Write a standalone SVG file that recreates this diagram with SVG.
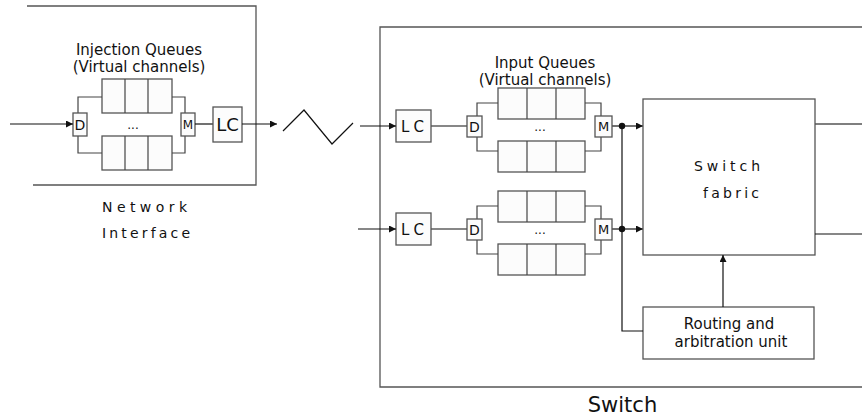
<svg xmlns="http://www.w3.org/2000/svg" width="862" height="417" viewBox="0 0 862 417">
<defs>
<style>
text{font-family:"DejaVu Sans","Liberation Sans",sans-serif;fill:#111;}
.box{fill:#fcfcfc;stroke:#555;stroke-width:1.3;}
.frame{fill:none;stroke:#555;stroke-width:1.3;}
.ln{fill:none;stroke:#111;stroke-width:1.2;}
.gl{fill:none;stroke:#444;stroke-width:1.2;}
.arr{fill:none;stroke:#111;stroke-width:1.2;marker-end:url(#ah);}
.mid{text-anchor:middle;}
</style>
<marker id="ah" viewBox="0 0 10 10" refX="10" refY="5" markerWidth="7" markerHeight="7" markerUnits="userSpaceOnUse" orient="auto">
<path d="M0,0 L10,5 L0,10 z" fill="#111"/>
</marker>
<g id="qrow">
<rect class="box" x="498" y="88" width="87" height="31"/>
<line class="gl" x1="527" y1="88" x2="527" y2="119"/>
<line class="gl" x1="556" y1="88" x2="556" y2="119"/>
<rect class="box" x="498" y="141" width="87" height="31"/>
<line class="gl" x1="527" y1="141" x2="527" y2="172"/>
<line class="gl" x1="556" y1="141" x2="556" y2="172"/>
<path class="gl" d="M477,116 V103 H498 M477,137 V151 H498 M585,103 H601 V116 M585,151 H601 V137"/>
<line class="ln" x1="431" y1="126" x2="467" y2="126"/>
<line class="ln" x1="612" y1="126" x2="622" y2="126"/>
<rect class="box" x="396" y="110" width="35" height="32"/>
<text x="401" y="132" font-size="15" textLength="23" lengthAdjust="spacing">LC</text>
<rect class="box" x="467" y="116" width="15" height="21"/>
<text x="474.5" y="131.5" font-size="14" class="mid">D</text>
<rect class="box" x="595" y="116" width="17" height="21"/>
<text x="603.5" y="131" font-size="13" class="mid">M</text>
<text x="540" y="131" font-size="12" class="mid">...</text>
<circle cx="622" cy="126" r="3.2" fill="#111"/>
<line class="arr" x1="622" y1="126" x2="643" y2="126"/>
</g>
</defs>

<g id="network-interface">
<path class="frame" d="M27,6 H256 V185 H33"/>
<text x="139" y="55" font-size="15" class="mid">Injection Queues</text>
<text x="139" y="72" font-size="15" class="mid">(Virtual channels)</text>
<rect class="box" x="102" y="79" width="70" height="34"/>
<line class="gl" x1="125" y1="79" x2="125" y2="113"/>
<line class="gl" x1="148" y1="79" x2="148" y2="113"/>
<rect class="box" x="102" y="136" width="70" height="34"/>
<line class="gl" x1="125" y1="136" x2="125" y2="170"/>
<line class="gl" x1="148" y1="136" x2="148" y2="170"/>
<path class="gl" d="M78,113 V97 H102 M78,136 V153 H102 M172,97 H185 V113 M172,153 H185 V136"/>
<rect class="box" x="73" y="113" width="14" height="23"/>
<text x="80" y="129.5" font-size="14" class="mid">D</text>
<rect class="box" x="181" y="113" width="14" height="23"/>
<text x="188" y="129" font-size="12" class="mid">M</text>
<text x="133" y="129" font-size="12" class="mid">...</text>
<line class="ln" x1="195" y1="124" x2="213" y2="124"/>
<rect class="box" x="213" y="107" width="29" height="35"/>
<text x="227.5" y="131" font-size="18" class="mid">LC</text>
<text x="102" y="212" font-size="14" textLength="85" lengthAdjust="spacing">Network</text>
<text x="102" y="238" font-size="14" textLength="88" lengthAdjust="spacing">Interface</text>
</g>

<g id="link">
<polyline class="ln" points="283,131 304,110 332,144 353,123"/>
</g>

<g id="switch">
<path class="frame" d="M870,27 H380 V387 H870"/>
<text x="622.5" y="412" font-size="21" class="mid">Switch</text>
<text x="545" y="68" font-size="15" class="mid">Input Queues</text>
<text x="545" y="85" font-size="15" class="mid">(Virtual channels)</text>
</g>

<g id="input-port-1">
<use href="#qrow"/>
</g>
<g id="input-port-2">
<use href="#qrow" transform="translate(0,103)"/>
</g>

<g id="switch-fabric">
<rect class="box" x="643" y="99" width="172" height="156" style="fill:#fff"/>
<text x="694" y="171" font-size="14" textLength="66" lengthAdjust="spacing">Switch</text>
<text x="703" y="198" font-size="14" textLength="56" lengthAdjust="spacing">fabric</text>
</g>

<g id="routing-unit">
<rect class="box" x="643" y="307" width="171" height="52" style="fill:#fff"/>
<text x="729" y="329" font-size="15" class="mid">Routing and</text>
<text x="731" y="347" font-size="15" class="mid">arbitration unit</text>
</g>

<g id="connectors">
<line class="arr" x1="10" y1="124" x2="73" y2="124"/>
<line class="arr" x1="242" y1="124" x2="277" y2="124"/>
<line class="arr" x1="360" y1="126" x2="396" y2="126"/>
<line class="arr" x1="358" y1="229" x2="396" y2="229"/>
<path class="ln" d="M622,126 V331 H643"/>
<line class="arr" x1="723" y1="307" x2="723" y2="255"/>
<line class="frame" x1="815" y1="124" x2="862" y2="124"/>
<line class="ln" x1="815" y1="234" x2="862" y2="234"/>
</g>
</svg>
